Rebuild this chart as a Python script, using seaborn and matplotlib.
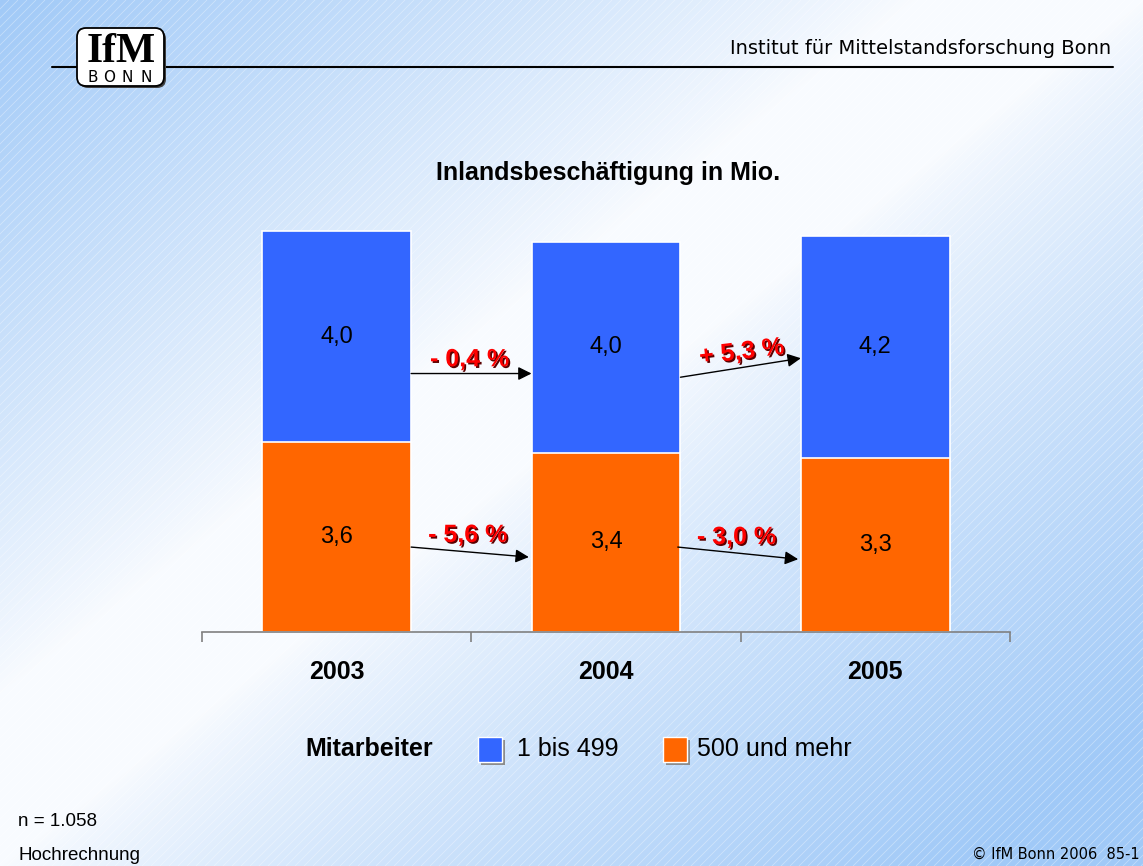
import numpy as np
import matplotlib
matplotlib.use("Agg")
import matplotlib.pyplot as plt
import matplotlib.patheffects as pe
from matplotlib.patches import Rectangle, FancyBboxPatch
from matplotlib.collections import LineCollection
import seaborn as sns

# ---------------- data ----------------
years = ["2003", "2004", "2005"]
klein = [4.0, 4.0, 4.2]        # 1 bis 499 Mitarbeiter
gross = [3.6, 3.4, 3.3]        # 500 und mehr Mitarbeiter
change_klein = ["- 0,4 %", "+ 5,3 %"]
change_gross = ["- 5,6 %", "- 3,0 %"]
series_labels = ["1 bis 499", "500 und mehr"]

BLUE = "#3366FF"
ORANGE = "#FF6600"

sns.set_theme(style="white")
plt.rcParams["font.family"] = ["Liberation Sans", "DejaVu Sans"]
plt.rcParams["text.color"] = "black"
plt.rcParams["xtick.color"] = "black"
plt.rcParams["xtick.labelcolor"] = "black"

W, H = 1143, 866
fig = plt.figure(figsize=(W / 100, H / 100), dpi=100)

# ---------------- background ----------------
bg = fig.add_axes([0, 0, 1, 1], zorder=-10)
xx, yy = np.meshgrid(np.arange(W) / W, np.arange(H) / H)
t = (xx + yy) / 2.0
wl = np.clip((0.40 - t) / 0.40, 0, 1) ** 0.9
wr = np.clip((t - 0.50) / 0.42, 0, 1) ** 0.8
w = np.maximum(wl, wr)[..., None]
blue_c = np.array([0.63, 0.79, 0.97])
white_c = np.array([0.975, 0.985, 1.0])
img = white_c * (1 - w) + blue_c * w
bg.imshow(img, extent=[0, W, H, 0], aspect="auto", interpolation="bilinear")
segs = []
for b in range(-W, H + W, 9):
    segs.append([(b, 0), (b - H, H)])  # x + y = b in image coordinates
bg.add_collection(LineCollection(segs, colors="white", linewidths=0.6, alpha=0.35))
bg.set_xlim(0, W)
bg.set_ylim(H, 0)
bg.axis("off")

# header line and logo
bg.plot([52, 1113], [67, 67], color="black", lw=1.5, zorder=3)
bg.add_patch(FancyBboxPatch((79, 30), 87, 58, boxstyle="round,pad=0,rounding_size=9",
                            fc="#404040", ec="none", zorder=4))
bg.add_patch(FancyBboxPatch((77, 28), 87, 58, boxstyle="round,pad=0,rounding_size=9",
                            fc="white", ec="black", lw=1.3, zorder=5))
bg.text(121, 62, "IfM", fontsize=30, fontweight="bold", family="Liberation Serif",
        ha="center", va="baseline", color="black", zorder=6)
for ch, xc in zip("BONN", [93, 109, 127, 146]):
    bg.text(xc, 82, ch, fontsize=11, family="DejaVu Sans", ha="center", va="baseline",
            color="black", zorder=6)

fig.text(1111 / W, 1 - 48 / H, "Institut für Mittelstandsforschung Bonn", fontsize=14,
         family="DejaVu Sans", ha="right", va="center")
fig.text(1140 / W, 1 - 854 / H, "© IfM Bonn 2006  85-1", fontsize=10.5,
         family="DejaVu Sans", ha="right", va="center")
fig.text(18 / W, 1 - 822 / H, "n = 1.058", fontsize=13.5, ha="left", va="center")
fig.text(18 / W, 1 - 855 / H, "Hochrechnung", fontsize=13.5, ha="left", va="center")

# ---------------- chart ----------------
ax = fig.add_axes([202 / W, 234 / H, 808 / W, 422 / H])
ax.patch.set_alpha(0)
totals = np.array(gross) + np.array(klein)
bw = 0.553
sns.barplot(x=years, y=totals, color=BLUE, saturation=1, width=bw,
            edgecolor="white", linewidth=1.2, ax=ax)
sns.barplot(x=years, y=gross, color=ORANGE, saturation=1, width=bw,
            edgecolor="white", linewidth=1.2, ax=ax)
ax.set_xlim(-0.5, 2.5)
ax.set_ylim(0, 8)
ax.set_xlabel("")
ax.set_ylabel("")
ax.set_yticks([])
for s in ["top", "left", "right"]:
    ax.spines[s].set_visible(False)
ax.spines["bottom"].set_color("#808080")
ax.spines["bottom"].set_linewidth(1.2)
ax.set_xticks([0, 1, 2])
ax.set_xticklabels(years, fontsize=18, fontweight="bold", color="black")
ax.set_xticks([-0.5, 0.5, 1.5, 2.5], minor=True)
ax.tick_params(axis="x", which="major", length=0, pad=20)
ax.tick_params(axis="x", which="minor", length=7, width=1.2, color="#808080",
               direction="out", bottom=True)

fmt = lambda v: f"{v:.1f}".replace(".", ",")
for i in range(len(years)):
    ax.text(i, gross[i] / 2, fmt(gross[i]), ha="center", va="center", fontsize=17)
    ax.text(i, gross[i] + klein[i] / 2, fmt(klein[i]), ha="center", va="center", fontsize=17)

shadow = [pe.SimplePatchShadow(offset=(1.2, -1.2), shadow_rgbFace="#5a0000", alpha=1.0),
          pe.Normal()]
arrow_kw = dict(arrowstyle="-|>", color="black", lw=1.0, mutation_scale=20,
                shrinkA=0, shrinkB=0)
# arrows: (y start, y end) and label placement for each change
klein_arrows = [(4.90, 4.90), (4.83, 5.19)]
gross_arrows = [(1.61, 1.42), (1.61, 1.38)]
klein_lab = [(0.494, 5.17, 0), (1.504, 5.31, 7)]
gross_lab = [(0.487, 1.84, 0), (1.485, 1.80, 0)]
for i in range(2):
    x0 = i + bw / 2
    x1 = i + 1 - bw / 2
    ax.annotate("", xy=(x1, klein_arrows[i][1]), xytext=(x0, klein_arrows[i][0]),
                arrowprops=arrow_kw)
    ax.annotate("", xy=(x1 - 0.01, gross_arrows[i][1]),
                xytext=(x0 - (0.01 if i else 0), gross_arrows[i][0]),
                arrowprops=arrow_kw)
    lx, ly, rot = klein_lab[i]
    ax.text(lx, ly, change_klein[i], ha="center", va="center", fontsize=18,
            fontweight="bold", color="#FF0000", rotation=rot, path_effects=shadow)
    lx, ly, rot = gross_lab[i]
    ax.text(lx, ly, change_gross[i], ha="center", va="center", fontsize=18,
            fontweight="bold", color="#FF0000", rotation=rot, path_effects=shadow)

# title
fig.text(608 / W, 1 - 173 / H, "Inlandsbeschäftigung in Mio.", fontsize=18,
         fontweight="bold", ha="center", va="center")

# legend
ly = 749
fig.text(305 / W, 1 - ly / H, "Mitarbeiter", fontsize=18, fontweight="bold",
         ha="left", va="center")
for x_sq, col, x_txt, lab in [(478, BLUE, 517, series_labels[0]),
                              (663, ORANGE, 697, series_labels[1])]:
    bg.add_patch(Rectangle((x_sq + 3, ly - 12 + 3), 24, 25, fc="#8c8c8c", ec="none", zorder=4))
    bg.add_patch(Rectangle((x_sq, ly - 12), 24, 25, fc=col, ec="white", lw=1, zorder=5))
    fig.text(x_txt / W, 1 - ly / H, lab, fontsize=18, ha="left", va="center")

fig.savefig("out.png", dpi=100)
